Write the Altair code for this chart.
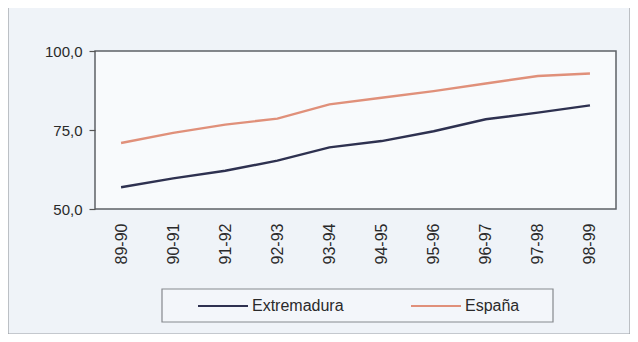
import altair as alt
import pandas as pd

categories = ["89-90", "90-91", "91-92", "92-93", "93-94", "94-95", "95-96", "96-97", "97-98", "98-99"]
extremadura = [56.9, 59.7, 62.1, 65.3, 69.5, 71.5, 74.6, 78.4, 80.5, 82.8]
espana = [70.9, 74.1, 76.7, 78.6, 83.1, 85.2, 87.3, 89.7, 92.1, 92.9]
series_names = ["Extremadura", "España"]
series_colors = ["#2e3150", "#e0907a"]
y_ticks = [50, 75, 100]

rows = []
for name, vals in zip(series_names, [extremadura, espana]):
    for c, v in zip(categories, vals):
        rows.append({"curso": c, "serie": name, "valor": v})
df = pd.DataFrame(rows)

W, H = 521, 158
FONT = "Liberation Sans"
TXT = "#2a2a2a"

dummy = pd.DataFrame({"k": [0]})

outer_frame = alt.Chart(dummy).mark_rect(fill=None, stroke="#9a9ea3", strokeWidth=1.2).encode(
    x=alt.value(-87), x2=alt.value(535), y=alt.value(-44), y2=alt.value(283)
)
legend_box = alt.Chart(dummy).mark_rect(fill="#f3f6fa", stroke="#85898e", strokeWidth=1.2).encode(
    x=alt.value(67), x2=alt.value(458), y=alt.value(238), y2=alt.value(271)
)

lines = alt.Chart(df).mark_line(strokeWidth=2.4).encode(
    x=alt.X("curso:N", sort=categories,
            scale=alt.Scale(type="point", padding=0.5),
            axis=alt.Axis(title=None, labelAngle=270, ticks=False, domain=False,
                          labelPadding=14, labelFontSize=16, labelFont=FONT,
                          labelColor=TXT)),
    y=alt.Y("valor:Q",
            scale=alt.Scale(domain=[50, 100], nice=False, zero=False),
            axis=alt.Axis(title=None, values=y_ticks, grid=False, domain=False,
                          tickSize=6, tickColor="#555555", tickWidth=1.2,
                          labelPadding=7, labelFontSize=15, labelFont=FONT,
                          labelColor=TXT,
                          labelExpr="replace(format(datum.value, '.1f'), '.', ',')")),
    color=alt.Color("serie:N",
                    scale=alt.Scale(domain=series_names, range=series_colors),
                    sort=series_names,
                    legend=alt.Legend(title=None, orient="none", legendX=102, legendY=229,
                                      direction="horizontal", symbolType="stroke",
                                      symbolSize=2500, symbolStrokeWidth=2,
                                      labelFontSize=16, labelFont=FONT, labelColor=TXT,
                                      labelOffset=3, columnPadding=63, padding=0)),
)

chart = alt.layer(outer_frame, legend_box, lines).properties(
    width=W, height=H,
    padding={"left": 87, "top": 43, "right": 14, "bottom": 125},
    autosize=alt.AutoSizeParams(type="none"),
    background="#eff3f8",
).configure_view(
    stroke="#5e6266", strokeWidth=1.5, fill="#f8fafc"
)

chart.save("out.html", embed_options={"renderer": "svg", "actions": False})
